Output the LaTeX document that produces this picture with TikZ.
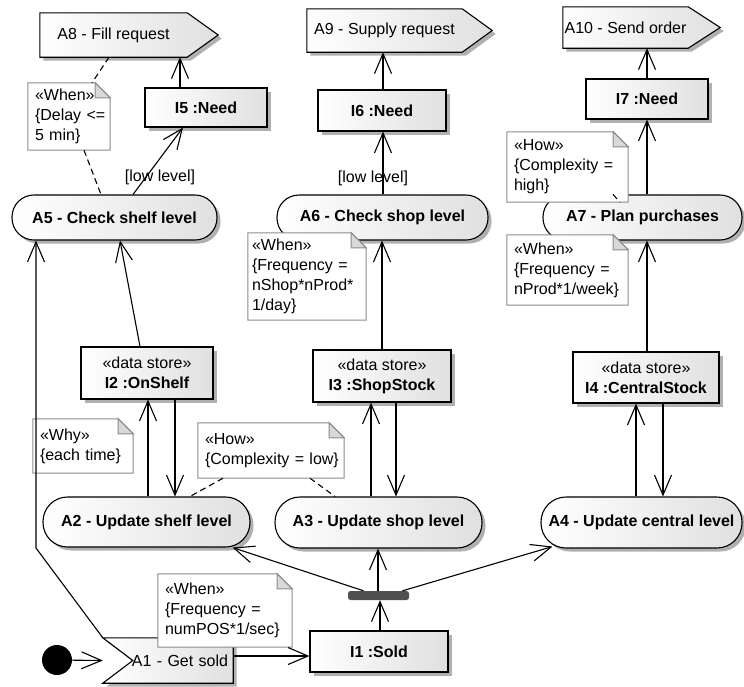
\documentclass[tikz,border=0pt]{standalone}
\usepackage{fontspec}
\setmainfont{Liberation Sans}
\usetikzlibrary{arrows.meta,shadows}

\definecolor{notegray}{HTML}{8C8C8C}
\definecolor{foldgray}{HTML}{D9D9D9}
\definecolor{shadegray}{HTML}{E0E0E0}
\definecolor{shadowgray}{HTML}{B0B0B0}
\definecolor{forkgray}{HTML}{505050}

% drawing order: event outlines, ordinary nodes, note bodies, note texts, connectors
\pgfdeclarelayer{shapes}
\pgfdeclarelayer{notebody}
\pgfdeclarelayer{notetext}
\pgfdeclarelayer{links}
\pgfsetlayers{shapes,main,notebody,notetext,links}

\tikzset{
  txt/.style={font=\fontsize{16}{20}\selectfont},
  shadowed/.style={drop shadow={shadow xshift=3.5pt,shadow yshift=-3.5pt,fill=shadowgray,opacity=1}},
  gradfill/.style={left color=white,right color=shadegray},
  outline/.style={draw,line width=1.1pt},
  action/.style={outline,gradfill,shadowed,inner sep=0pt,font=\fontsize{16}{20}\selectfont\bfseries},
  objbox/.style={outline,gradfill,shadowed,inner sep=0pt,align=center,txt},
  plainlabel/.style={inner sep=0pt,txt},
  eventshape/.style={outline,gradfill,shadowed},
  note/.style={inner xsep=7pt,inner ysep=0pt,align=left,txt},
  notebodystyle/.style={fill=white,draw=notegray,line width=1pt},
  notefold/.style={fill=foldgray,draw=notegray,line width=1pt},
  arr/.style={line width=1.1pt,-{Straight Barb[length=20pt,width=17pt]}},
  link/.style={line width=1.1pt,dash pattern=on 6pt off 4pt},
  forkbar/.style={fill=forkgray,rounded corners=2.5pt,inner sep=0pt,minimum width=61pt,minimum height=9pt},
  startdot/.style={circle,fill=black,inner sep=0pt,minimum size=30pt},
}

\begin{document}
\begin{tikzpicture}[x=1pt,y=-1pt]
\useasboundingbox (0,0) rectangle (744,686);

% ---- send-signal and accept-event actions (labels on main, outlines below)
\node[plainlabel,minimum width=147pt,minimum height=44pt] (a8) at (113.5,35) {A8 - Fill request};
\node[plainlabel,minimum width=155pt,minimum height=43pt] (a9) at (384.5,30.5) {A9 - Supply request};
\node[plainlabel,minimum width=125pt,minimum height=41pt] (a10) at (625.5,27.5) {A10 - Send order};
\node[plainlabel,minimum height=45pt,text width=120pt,inner xsep=5pt,align=right] (a1) at (168,660.5) {A1 - Get sold};

\begin{pgfonlayer}{shapes}
  \foreach \s/\d in {a8/31,a9/30,a10/32}{
    \path[eventshape] (\s.north west) -- (\s.north east) -- ([xshift=\d pt]\s.east)
      -- (\s.south east) -- (\s.south west) -- cycle;
  }
  \path[eventshape] (a1.north west) -- (a1.north east) -- (a1.south east)
    -- (a1.south west) -- ([xshift=30pt]a1.west) -- cycle;
\end{pgfonlayer}

% ---- actions
\node[action,minimum width=205pt,minimum height=45pt,rounded corners=22pt] (a5) at (114.5,217.5) {A5 - Check shelf level};
\node[action,minimum width=211pt,minimum height=45pt,rounded corners=22pt] (a6) at (382.5,217.5) {A6 - Check shop level};
\node[action,minimum width=199pt,minimum height=45pt,rounded corners=22pt] (a7) at (642.5,217.5) {A7 - Plan purchases};
\node[action,minimum width=207pt,minimum height=50pt,rounded corners=24.5pt] (a2) at (146.5,522) {A2 - Update shelf level};
\node[action,minimum width=207pt,minimum height=51pt,rounded corners=25pt] (a3) at (378.5,522.5) {A3 - Update shop level};
\node[action,minimum width=201pt,minimum height=51pt,rounded corners=25pt] (a4) at (641.5,522.5) {A4 - Update central level};

% ---- object nodes
\node[objbox,minimum width=122pt,minimum height=39pt] (i5) at (206,107.5) {\textbf{I5 :Need}};
\node[objbox,minimum width=128pt,minimum height=41pt] (i6) at (382,110.5) {\textbf{I6 :Need}};
\node[objbox,minimum width=122pt,minimum height=40pt] (i7) at (647,99) {\textbf{I7 :Need}};
\node[objbox,minimum width=132pt,minimum height=52pt] (i2) at (147,373) {«data store»\\\textbf{I2 :OnShelf}};
\node[objbox,minimum width=138pt,minimum height=52pt] (i3) at (382,376) {«data store»\\\textbf{I3 :ShopStock}};
\node[objbox,minimum width=146pt,minimum height=51pt] (i4) at (646,377.5) {«data store»\\\textbf{I4 :CentralStock}};
\node[objbox,minimum width=138pt,minimum height=41pt] (i1) at (379,651.5) {\textbf{I1 :Sold}};

% ---- control nodes
\node[forkbar] (fork) at (378.5,595.5) {};
\node[startdot] (start) at (57,660) {};

% ---- guards
\node[plainlabel] (g5) at (160,177) {[low level]};
\node[plainlabel] (g6) at (373,178) {[low level]};

% ---- comment notes
\begin{pgfonlayer}{notetext}
\node[note,text width=68pt,minimum height=67pt] (n1) at (69,116.5) {«When»\\\{Delay~<=\\5~min\}};
\node[note,inner xsep=4pt,text width=110pt,minimum height=87pt] (n2) at (307,276.5) {«When»\\\{Frequency~=\\nShop*nProd*\\1/day\}};
\node[note,text width=107pt,minimum height=70pt] (n3) at (567.5,167) {«How»\\\{Complexity~=\\high\}};
\node[note,text width=107pt,minimum height=70pt] (n4) at (567.5,270) {«When»\\\{Frequency~=\\nProd*1/week\}};
\node[note,text width=86pt,minimum height=54pt] (nwhy) at (83,446) {«Why»\\\{each~time\}};
\node[note,text width=132pt,minimum height=55pt] (nhow) at (271,450.5) {«How»\\\{Complexity~=~low\}};
\node[note,text width=120pt,minimum height=73pt] (npos) at (225,610.5) {«When»\\\{Frequency~=\\numPOS*1/sec\}};
\end{pgfonlayer}

\begin{pgfonlayer}{notebody}
  \foreach \n in {n1,n2,n3,n4,nwhy,nhow,npos}{
    \path[notebodystyle] (\n.north west) -- ([xshift=-15pt]\n.north east)
      -- ([yshift=-15pt]\n.north east) -- (\n.south east) -- (\n.south west) -- cycle;
    \path[notefold] ([xshift=-15pt]\n.north east) -- ([xshift=-15pt,yshift=-15pt]\n.north east)
      -- ([yshift=-15pt]\n.north east) -- cycle;
  }
\end{pgfonlayer}

% ---- connectors
\begin{pgfonlayer}{links}
  % shelf branch
  \draw[arr] (180,0 |- i5.north) -- (180,0 |- a8.south);
  \draw[arr] (133,0 |- a5.north) -- (183,0 |- i5.south);
  \draw[link] (109,0 |- a8.south) -- (92,0 |- n1.north);
  \draw[link] (84,0 |- n1.south) -- (101,0 |- a5.north);
  \draw[arr] (140,0 |- i2.north) -- (120,0 |- a5.south);
  \draw[arr] (148,0 |- a2.north) -- (148,0 |- i2.south);
  \draw[arr] (175,0 |- i2.south) -- (175,0 |- a2.north);
  % shop branch
  \draw[arr] (383,0 |- i6.north) -- (383,0 |- a9.south);
  \draw[arr] (383,0 |- a6.north) -- (383,0 |- i6.south);
  \draw[arr] (382,0 |- i3.north) -- (382,0 |- a6.south);
  \draw[arr] (371,0 |- a3.north) -- (371,0 |- i3.south);
  \draw[arr] (396,0 |- i3.south) -- (396,0 |- a3.north);
  % central branch
  \draw[arr] (647,0 |- i7.north) -- (647,0 |- a10.south);
  \draw[arr] (647,0 |- a7.north) -- (647,0 |- i7.south);
  \draw[arr] (647,0 |- i4.north) -- (647,0 |- a7.south);
  \draw[link] (613,0 |- a7.north) -- (620,0 |- n3.south);
  \draw[arr] (636,0 |- a4.north) -- (636,0 |- i4.south);
  \draw[arr] (663,0 |- i4.south) -- (663,0 |- a4.north);
  % note links on the update actions
  \draw[link] (223,0 |- nhow.south) -- (190,0 |- a2.north);
  \draw[link] (310,0 |- nhow.south) -- (335,0 |- a3.north);
  % fork
  \draw[arr] (380,0 |- i1.north) -- (380,0 |- fork.south);
  \draw[arr] ([xshift=-15pt]fork.north) -- ([xshift=-18pt]a2.south east);
  \draw[arr] (378,0 |- fork.north) -- (378,0 |- a3.south);
  \draw[arr] ([xshift=24pt]fork.north) -- ([xshift=12pt,yshift=2pt]a4.south west);
  % start and sale event
  \draw[arr] (start) -- (a1.west);
  \draw[arr] (a1.east |- 0,656) -- (i1.west |- 0,656);
  \draw[arr] (a1.north west) -- (36,548) -- (36,0 |- a5.south);
\end{pgfonlayer}
\end{tikzpicture}
\end{document}
